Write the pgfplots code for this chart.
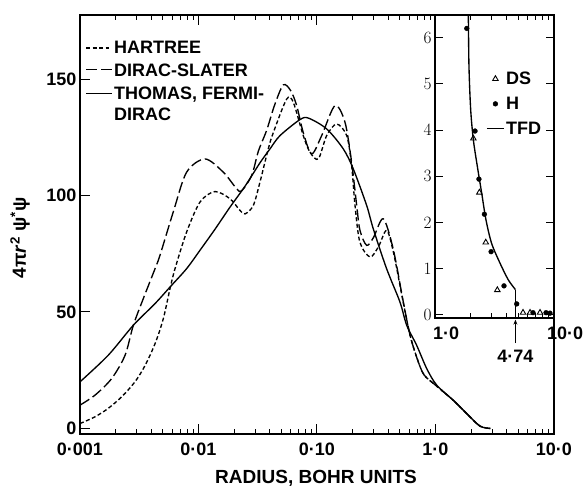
\documentclass[border=0pt]{standalone}
\usepackage{fontspec}
\setmainfont{Liberation Sans}
\usepackage{pgfplots}
\pgfplotsset{compat=1.18}
\usetikzlibrary{arrows.meta}
\newcommand\tf{\bfseries\fontsize{18}{21}\selectfont}
\newcommand\lf{\bfseries\fontsize{19}{22}\selectfont}
\tikzset{
  hartree/.style={black, line width=1.35pt, dash pattern=on 4pt off 2.5pt},
  dslater/.style={black, line width=1.35pt, dash pattern=on 11pt off 4pt},
  tfd/.style={black, line width=1.35pt},
}
\begin{document}
\begin{tikzpicture}[x=1pt,y=1pt]
\useasboundingbox (0,0) rectangle (585,491);
\begin{axis}[
  at={(80pt,57pt)}, anchor=south west,
  scale only axis, width=474pt, height=419pt,
  xmode=log, xmin=0.001, xmax=10, ymin=-2.4, ymax=177.5,
  xtick={0.001,0.01,0.1,1,10},
  xticklabels={0·001,0·01,0·10,1·0,10·0},
  minor xtick={0.002,0.003,0.004,0.005,0.006,0.007,0.008,0.009,
    0.02,0.03,0.04,0.05,0.06,0.07,0.08,0.09,
    0.2,0.3,0.4,0.5,0.6,0.7,0.8,0.9,2,3,4,5,6,7,8,9},
  ytick={0,50,100,150}, yticklabels={0,50,100,150},
  yminorticks=false,
  tick align=inside, xtick pos=both, ytick pos=left,
  major tick length=10pt, minor tick length=5pt,
  axis line style={line width=1.3pt},
  every tick/.style={black, line width=1pt},
  tick label style={font=\tf},
  xticklabel style={yshift=-5pt},
  xlabel={RADIUS, BOHR UNITS},
  xlabel style={font=\lf, at={(axis description cs:0.498,-0.105)}, anchor=center},
  ylabel={4π\textit{r}\textsuperscript{2} ψ\textsuperscript{*}ψ},
  ylabel style={font=\lf, at={(axis description cs:-0.1266,0.468)}, anchor=center},
]
% Hartree
\addplot[hartree, smooth] coordinates {
(0.001,2.1) (0.00134,5) (0.00173,8.6) (0.00225,13.6) (0.00291,20) (0.00354,27)
(0.0043,36.4) (0.00504,47) (0.00575,60) (0.00634,68.6) (0.00794,84.3) (0.0103,97.2)
(0.01377,101.7) (0.01844,98.6) (0.0224,93.6) (0.0247,92.1) (0.029,95.7) (0.033,105.7)
(0.0388,120) (0.0428,127) (0.0555,141.4) (0.0631,140) (0.0766,125.7) (0.0873,118.6)
(0.1026,115.7) (0.1206,125.7) (0.1466,130.7) (0.1782,125.7) (0.196,112.9) (0.2094,95.7)
(0.23,80) (0.28,73.6) (0.33,78) (0.3866,85) (0.44,76) (0.535,54) (0.61,40) (0.7,30)
(0.8,23) (1.0,18.6) (1.41,12.1) (1.83,6.4) (2.37,1) (2.9,0)
};
% Dirac-Slater
\addplot[dslater, smooth] coordinates {
(0.001,10) (0.00134,14.3) (0.00185,21.4) (0.0024,31.4) (0.00282,44.3) (0.00342,55.7)
(0.0043,68.6) (0.00473,74.3) (0.00613,93) (0.00794,110) (0.01135,115.7) (0.0162,110)
(0.021,102.9) (0.0231,102) (0.0281,108.6) (0.032,119) (0.0376,128) (0.044,139)
(0.052,147.5) (0.06,145) (0.0674,138.6) (0.0766,127) (0.0902,117.9) (0.1095,125.7)
(0.1418,138.6) (0.1722,131.5) (0.196,114.3) (0.2163,95.7) (0.2306,85) (0.2626,78.6)
(0.3,82) (0.3625,90) (0.44,77) (0.535,54.3) (0.61,40) (0.7,30) (0.8,23) (1.0,18.6)
(1.41,12.1) (1.83,6.4) (2.37,1) (2.9,0)
};
% Thomas-Fermi-Dirac
\addplot[tfd, smooth] coordinates {
(0.001,20) (0.00173,31.4) (0.00282,44.3) (0.0043,53.6) (0.00575,60.7) (0.00794,68.6)
(0.0103,76.5) (0.01377,85.5) (0.01844,95) (0.0247,104) (0.033,114) (0.0401,120)
(0.0487,125.7) (0.0719,132.6) (0.0850,133.2) (0.1206,128.6) (0.1667,120) (0.2024,111.4)
(0.2626,95.7) (0.2985,85.7) (0.3866,68.6) (0.501,54.3) (0.5715,44.3) (0.6934,35.7)
(0.8433,25.7) (1.023,18.6) (1.413,12.1) (1.832,6.4) (2.374,1) (2.884,0)
};
\end{axis}
% main legend
\draw[hartree] (86,443) -- (109,443);
\node[anchor=west, inner sep=0pt, font=\tf] at (114,444) {HARTREE};
\draw[dslater] (86,421.5) -- (112,421.5);
\node[anchor=west, inner sep=0pt, font=\tf] at (114,421) {DIRAC-SLATER};
\draw[tfd] (86,397.7) -- (112,397.7);
\node[anchor=west, inner sep=0pt, font=\tf] at (114,396) {THOMAS, FERMI-};
\node[anchor=west, inner sep=0pt, font=\tf] at (114,377) {DIRAC};
% inset
\begin{axis}[
  at={(435pt,173pt)}, anchor=south west,
  scale only axis, width=119pt, height=303pt,
  xmode=log, xmin=1, xmax=10, ymin=-0.065, ymax=6.49,
  xtick={1,10}, xticklabels={1·0,10·0},
  minor xtick={2,3,4,5,6,7,8,9},
  ytick={0,1,2,3,4,5,6},
  yminorticks=false,
  tick align=inside, xtick pos=both, ytick pos=both,
  major tick length=8pt, minor tick length=5pt,
  axis line style={line width=1.3pt},
  every tick/.style={black, line width=1pt},
  tick label style={font=\tf},
  xticklabel style={xshift=11pt, yshift=-5pt},
  axis background/.style={fill=white},
  clip mode=individual,
  legend style={at={(0.4286,0.818)}, anchor=north west, draw=none, fill=none,
    font=\tf, inner sep=0pt, row sep=8pt, nodes={inner sep=1.5pt}},
  legend cell align=left,
]
\addplot[only marks, mark=triangle, mark size=3.2pt, mark options={line width=0.9pt, black}]
 coordinates {(2.10,3.82) (2.36,2.65) (2.67,1.57) (3.34,0.54) (5.49,0.05) (6.29,0.05) (7.63,0.05)};
\addlegendentry{DS}
\addplot[only marks, mark=*, mark size=2.4pt, mark options={black}]
 coordinates {(1.85,6.20) (2.17,3.98) (2.34,2.94) (2.60,2.18) (2.96,1.37) (3.80,0.63) (4.86,0.24) (6.66,0.05) (8.57,0.05) (9.25,0.04)};
\addlegendentry{H}
\addplot[tfd, smooth] coordinates {
(1.88,6.9) (1.905,6.49) (1.93,5.37) (1.995,4.44) (2.10,3.79) (2.27,3.21) (2.47,2.63)
(2.68,2.06) (2.99,1.55) (3.52,1.12) (4.13,0.76) (4.74,0.55)
};
\addlegendentry{TFD}
\addplot[tfd, forget plot] coordinates {(4.74,0.55) (4.74,-0.065)};
\draw[line width=1pt, -{Stealth[length=5pt,width=4pt]}] (axis cs:4.74,-0.61) -- (axis cs:4.74,-0.1);
\node[font=\tf] at (axis cs:4.74,-0.9) {4·74};
\end{axis}
\end{tikzpicture}
\end{document}
